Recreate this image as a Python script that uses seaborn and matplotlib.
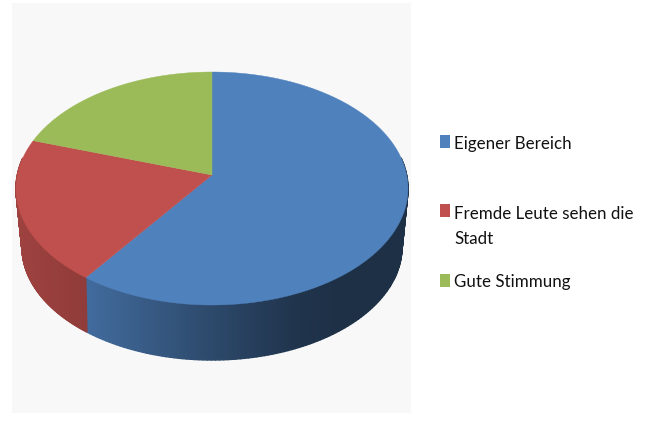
import numpy as np
import matplotlib
matplotlib.use("Agg")
import matplotlib.pyplot as plt
from matplotlib.collections import PolyCollection
from matplotlib.patches import Rectangle
import seaborn as sns

# Daten
labels = ["Eigener Bereich", "Fremde Leute sehen die\nStadt", "Gute Stimmung"]
values = [60, 20, 20]

colors = sns.color_palette(["#4F81BD", "#C0504D", "#9BBB59"])

sns.set_theme(style="white")
plt.rcParams["font.family"] = ["Lato", "DejaVu Sans"]

fig = plt.figure(figsize=(6.49, 4.43), dpi=100)
ax = fig.add_axes([0, 0, 1, 1])
ax.set_xlim(0, 649)
ax.set_ylim(443, 0)
ax.axis("off")

# grauer Hintergrund der Grafik
ax.add_patch(Rectangle((12, 3), 399, 410, color="#F8F8F8", lw=0, zorder=0))


# Kreis -> Ellipse mit Perspektive (Mitte liegt ueber der Ellipsenmitte)
def rim(theta, cx, cy, rx, ry, d):
    u = np.sin(theta)
    v = np.cos(theta)
    w = 1 + d * v
    return cx + rx * u * np.sqrt(1 - d**2) / w, cy - ry * (v + d) / w


edges = np.concatenate([[0], np.cumsum(values)]) / np.sum(values) * 2 * np.pi

top = (212, 188.5, 196, 116.5, 0.1159)
bottom = (212, 247, 190, 113, 0.144)
hub_x, hub_y = 212, 175

# Abdunklung der Seitenwand je nach x-Position
shade_x = [[85, 150, 212, 300, 340, 410], [16, 50, 86]]
shade_f = [[0.84, 0.70, 0.57, 0.40, 0.37, 0.37], [0.82, 0.79, 0.75]]

# Seitenwand
for i in range(2):
    th = np.linspace(edges[i], edges[i + 1], 200)
    th = th[np.cos(th) < 0.15]
    x0, y0 = rim(th, *top)
    x1, y1 = rim(th, *bottom)
    quads = []
    cols = []
    for k in range(len(th) - 1):
        quads.append([(x0[k], y0[k]), (x0[k + 1], y0[k + 1]), (x1[k + 1], y1[k + 1]), (x1[k], y1[k])])
        f = np.interp(x0[k], shade_x[i], shade_f[i])
        cols.append(tuple(c * f for c in colors[i]))
    ax.add_collection(PolyCollection(quads, facecolors=cols, edgecolors=cols, linewidths=1.0, zorder=2))

# Deckflaeche
for i in range(3):
    th = np.linspace(edges[i], edges[i + 1], 200)
    x0, y0 = rim(th, *top)
    ax.fill(np.r_[hub_x, x0], np.r_[hub_y, y0], color=colors[i], lw=0.3, zorder=3)

# Legende
legend_box = [135, 204, 274]
legend_text = [143.5, 226.5, 282.5]
for i in range(3):
    ax.add_patch(Rectangle((440, legend_box[i]), 10, 13, color=colors[i], lw=0, zorder=3))
    ax.text(454, legend_text[i], labels[i], fontsize=12.2, color="#111111", va="center", ha="left", linespacing=1.75)

fig.savefig("out.png", dpi=100)
plt.close(fig)
